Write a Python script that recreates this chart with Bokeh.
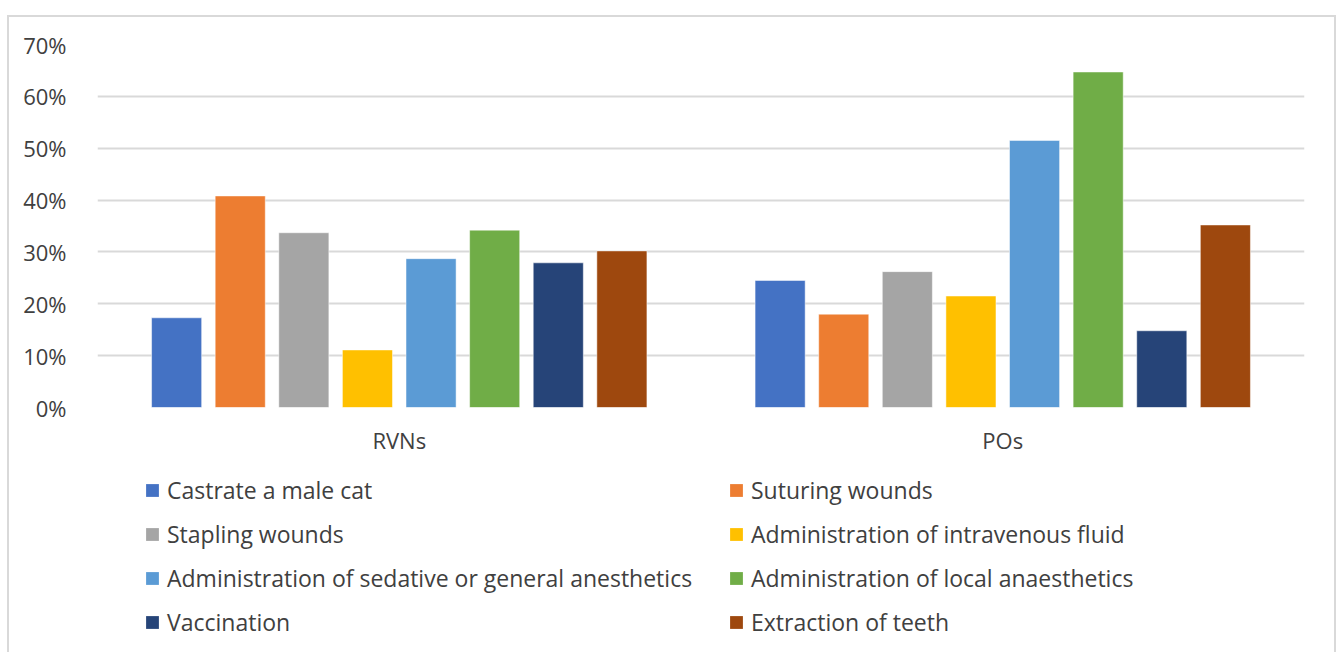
from bokeh.plotting import figure
from bokeh.models import (ColumnDataSource, FactorRange, Range1d, FixedTicker,
                          PrintfTickFormatter, Legend, LegendItem)
from bokeh.layouts import column
from bokeh.transform import dodge
from bokeh.embed import file_html
from bokeh.resources import INLINE

groups = ["RVNs", "POs"]
series = ["Castrate a male cat", "Suturing wounds", "Stapling wounds",
          "Administration of intravenous fluid",
          "Administration of sedative or general anesthetics",
          "Administration of local anaesthetics", "Vaccination",
          "Extraction of teeth"]
castrate = [17.3, 24.5]
suturing = [40.8, 18.0]
stapling = [33.7, 26.2]
iv_fluid = [11.1, 21.5]
sedative = [28.7, 51.5]
local_an = [34.2, 64.7]
vaccination = [27.9, 14.8]
extraction = [30.2, 35.2]
colors = ["#4472C4", "#ED7D31", "#A5A5A5", "#FFC000", "#5B9BD5", "#70AD47",
          "#264478", "#9E480E"]
y_ticks = [0, 10, 20, 30, 40, 50, 60, 70]

values = [castrate, suturing, stapling, iv_fluid, sedative, local_an,
          vaccination, extraction]
data = {"group": groups}
for i, v in enumerate(values):
    data[f"s{i}"] = v
src = ColumnDataSource(data)

FONT = "Open Sans"
TXT = "#404040"

# main chart
p = figure(x_range=FactorRange(*groups), y_range=Range1d(0, 70),
           width=1325, height=442, output_backend="svg",
           toolbar_location=None, min_border_left=88, min_border_right=30,
           min_border_top=27, min_border_bottom=52)
p.outline_line_color = None

step = 0.1054
bw = 0.083
for i, name in enumerate(series):
    p.vbar(x=dodge("group", (i - 3.5) * step, range=p.x_range),
           top=f"s{i}", width=bw, source=src, fill_color=colors[i],
           line_color="white", line_width=0.5)

p.yaxis.ticker = FixedTicker(ticks=y_ticks)
p.yaxis.formatter = PrintfTickFormatter(format="%d%%")
p.yaxis.axis_line_color = None
p.yaxis.major_tick_line_color = None
p.yaxis.minor_tick_line_color = None
p.yaxis.major_label_standoff = 25
p.yaxis.major_label_text_font = FONT
p.yaxis.major_label_text_font_size = "22px"
p.yaxis.major_label_text_color = TXT

p.xaxis.axis_line_color = None
p.xaxis.major_tick_line_color = None
p.xaxis.minor_tick_line_color = None
p.xaxis.major_label_standoff = 11
p.xaxis.major_label_text_font = FONT
p.xaxis.major_label_text_font_size = "22px"
p.xaxis.major_label_text_color = TXT

p.xgrid.grid_line_color = None
p.ygrid.grid_line_color = "#d9d9d9"
p.ygrid.grid_line_width = 2
p.ygrid.ticker = FixedTicker(ticks=y_ticks)

# legend panel (same series, drawn out of view; only the legend shows)
p2 = figure(x_range=p.x_range, y_range=Range1d(100, 200), width=1325,
            height=193, output_backend="svg", toolbar_location=None,
            x_axis_location=None, y_axis_location=None,
            min_border_left=88, min_border_right=30, min_border_top=0,
            min_border_bottom=0)
p2.outline_line_color = None
p2.xgrid.grid_line_color = None
p2.ygrid.grid_line_color = None

items = []
for i, name in enumerate(series):
    r = p2.vbar(x=dodge("group", (i - 3.5) * step, range=p.x_range),
                top=f"s{i}", width=bw, source=src, fill_color=colors[i],
                line_color=None)
    items.append(LegendItem(label=name, renderers=[r]))

legend = Legend(items=items, ncols=2, location=(47, 12),
                orientation="horizontal")
legend.label_text_font = FONT
legend.label_text_font_size = "23px"
legend.label_text_color = TXT
legend.glyph_width = 16
legend.glyph_height = 16
legend.label_standoff = 7
legend.label_width = 553
legend.label_height = 36
legend.spacing = 8
legend.padding = 0
legend.margin = 0
legend.border_line_color = None
legend.background_fill_alpha = 0
p2.add_layout(legend, "center")

layout = column(p, p2, spacing=0)
layout.styles = {"margin-left": "7px", "margin-top": "15px",
                 "border": "2px solid #d9d9d9", "border-bottom": "none"}

open("out.html", "w").write(file_html(layout, INLINE))
